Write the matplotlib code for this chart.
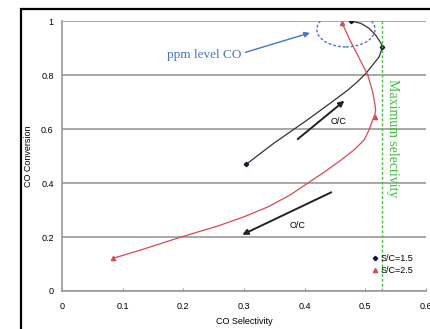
import numpy as np
import matplotlib.pyplot as plt
from matplotlib.patches import Ellipse, Rectangle
from matplotlib.lines import Line2D

# curve traces (CO selectivity, CO conversion)
sc15_x = [0.304, 0.349, 0.404, 0.443, 0.471, 0.487, 0.501, 0.512, 0.523,
          0.528, 0.526, 0.517, 0.506, 0.493, 0.476]
sc15_y = [0.470, 0.547, 0.633, 0.697, 0.744, 0.775, 0.806, 0.837, 0.868,
          0.902, 0.917, 0.948, 0.973, 0.991, 1.000]
sc25_x = [0.084, 0.130, 0.195, 0.260, 0.300, 0.340, 0.377, 0.404, 0.432, 0.460, 0.481,
          0.498, 0.506, 0.512, 0.516, 0.517, 0.516, 0.512, 0.504, 0.490, 0.476, 0.462]
sc25_y = [0.121, 0.152, 0.199, 0.243, 0.275, 0.312, 0.357, 0.398, 0.440, 0.485, 0.522,
          0.559, 0.596, 0.633, 0.655, 0.670, 0.689, 0.738, 0.800, 0.862, 0.923, 0.991]

# measured points (markers)
sc15_px = [0.304, 0.528, 0.476]
sc15_py = [0.470, 0.902, 1.000]
sc25_px = [0.084, 0.516, 0.462]
sc25_py = [0.121, 0.645, 0.991]

max_sel = 0.527
x_ticks = [0, 0.1, 0.2, 0.3, 0.4, 0.5, 0.6]
x_labels = ['0', '0.1', '0.2', '0.3', '0.4', '0.5', '0.6']
y_ticks = [0, 0.2, 0.4, 0.6, 0.8, 1]
y_labels = ['0', '0.2', '0.4', '0.6', '0.8', '1']

red = '#d84a55'
blue = '#4a74c8'
green = '#3fc23f'
grey = '#9a9a9a'

plt.rcParams['font.family'] = ['Liberation Sans', 'DejaVu Sans']
fig = plt.figure(figsize=(4.31, 3.29), dpi=100)
ax = fig.add_axes([62/431, 1 - 291/329, 364/431, 270/329])

for y in y_ticks:
    ax.axhline(y, color=grey, lw=1.2, zorder=0)

ax.plot(sc15_x, sc15_y, color='#333333', lw=0.9, solid_joinstyle='round')
ax.plot(sc25_x, sc25_y, color=red, lw=0.9, solid_joinstyle='round')
ax.plot(sc15_px, sc15_py, 'D', color='#111133', ms=2.2, ls='none')
ax.plot(sc25_px, sc25_py, '^', color=red, ms=3, ls='none')

ax.axvline(max_sel, color=green, lw=1.0, ls=(0, (2, 1.5)))
ax.text(0.545, 0.567, 'Maximum selectivity', rotation=-90, color=green,
        family='Liberation Serif', fontsize=10, ha='center', va='center')

# ppm level CO circle
ax.add_patch(Ellipse((0.468, 0.969), 0.096, 0.13, fill=False, ec=blue,
                     ls=(0, (2, 1.5)), lw=1.0))
ax.annotate('', xy=(0.413, 0.959), xytext=(0.298, 0.881),
            arrowprops=dict(arrowstyle='-|>', color=blue, lw=1.0, mutation_scale=8))
ax.text(0.295, 0.874, 'ppm level CO', color=blue, family='Liberation Serif',
        fontsize=9.5, ha='right', va='center')

# O/C arrows
ax.annotate('', xy=(0.469, 0.711), xytext=(0.385, 0.556),
            arrowprops=dict(arrowstyle='-|>', color='#222222', lw=1.4, mutation_scale=8))
ax.text(0.456, 0.626, 'O/C', fontsize=6.5, ha='center', va='center')
ax.annotate('', xy=(0.293, 0.204), xytext=(0.448, 0.370),
            arrowprops=dict(arrowstyle='-|>', color='#222222', lw=1.4, mutation_scale=8))
ax.text(0.388, 0.244, 'O/C', fontsize=6.5, ha='center', va='center')

handles = [Line2D([], [], marker='D', color='#111133', ms=2.2, ls='none'),
           Line2D([], [], marker='^', color=red, ms=3, ls='none')]
ax.legend(handles, ['S/C=1.5', 'S/C=2.5'], loc='lower left',
          bbox_to_anchor=(0.83, 0.03), frameon=False, fontsize=6.5,
          handlelength=0.6, handletextpad=0.3, labelspacing=0.3)

ax.set_xlim(0, 0.6)
ax.set_ylim(0, 1)
ax.set_xticks(x_ticks)
ax.set_xticklabels(x_labels)
ax.set_yticks(y_ticks)
ax.set_yticklabels(y_labels)
ax.tick_params(axis='x', direction='in', length=2, color=grey, labelsize=6.5, pad=8)
ax.tick_params(axis='y', length=0, labelsize=6.5, pad=6)
for s in ['top', 'right']:
    ax.spines[s].set_visible(False)
for s in ['left', 'bottom']:
    ax.spines[s].set_color(grey)
    ax.spines[s].set_linewidth(1.2)
ax.set_xlabel('CO Selectivity', fontsize=6.5, labelpad=4)
ax.set_ylabel('CO Conversion', fontsize=6.5, labelpad=6)

# outer black frame
fig.patches.append(Rectangle((21/431, -0.1), 1.2, 1.1 - 9/329, transform=fig.transFigure,
                             fill=False, ec='black', lw=1.6))

fig.savefig('out.png', dpi=100)
